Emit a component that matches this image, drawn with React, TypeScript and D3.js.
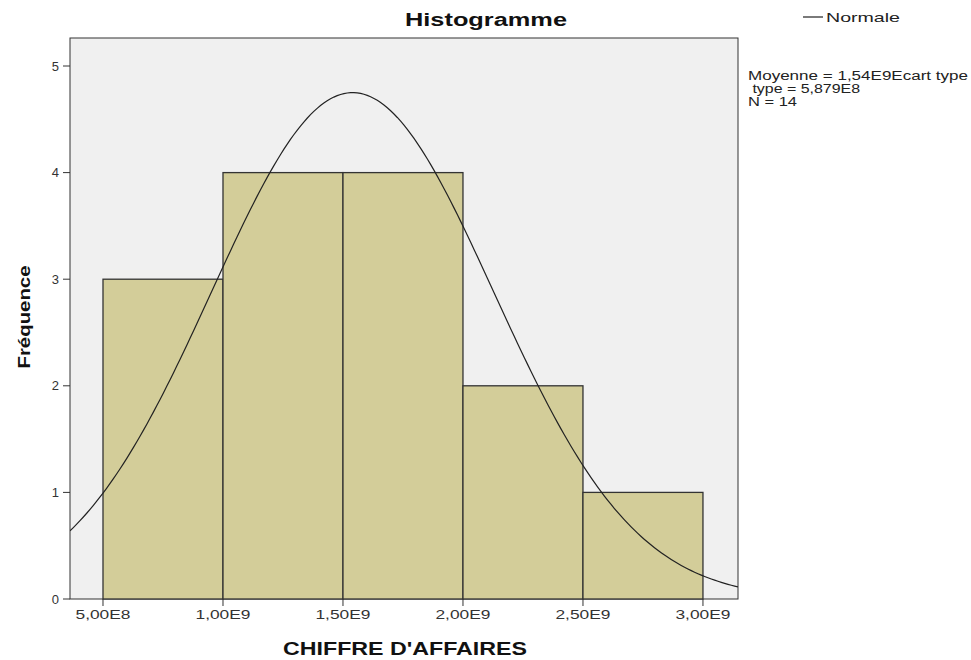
import React from "react";
import * as d3 from "d3";

const binStarts = [5e8, 1e9, 1.5e9, 2e9, 2.5e9];
const binWidth = 5e8;
const binCounts = [3, 4, 4, 2, 1];
const xTicks = [5e8, 1e9, 1.5e9, 2e9, 2.5e9, 3e9];
const xTickLabels = ["5,00E8", "1,00E9", "1,50E9", "2,00E9", "2,50E9", "3,00E9"];
const yTicks = [0, 1, 2, 3, 4, 5];
const mean = 1.54e9;
const sd = 5.879e8;
const n = 14;

export default function App() {
  const W = 971, H = 660;
  const left = 70, right = 738, top = 38, bottom = 599;
  const x = d3.scaleLinear().domain([3.625e8, 3.146e9]).range([left, right]);
  const y = d3.scaleLinear().domain([0, 5]).range([bottom, bottom - 5 * 106.6]);
  const font = "'Liberation Sans', Arial, sans-serif";
  const pts: [number, number][] = d3.range(0, 201).map((i) => {
    const v = 3.625e8 + (i / 200) * (3.146e9 - 3.625e8);
    const d = (n * binWidth) / (sd * Math.sqrt(2 * Math.PI)) * Math.exp(-0.5 * ((v - mean) / sd) ** 2);
    return [x(v), y(d)];
  });
  const line = d3.line();
  return (
    <svg width={W} height={H} style={{ position: "absolute", left: 0, top: 0, background: "#fff" }} fontFamily={font}>
      <rect x={left} y={top} width={right - left} height={bottom - top} fill="#f0f0f0" stroke="#333" strokeWidth={1} />
      {binStarts.map((s, i) => (
        <rect key={i} x={x(s)} y={y(binCounts[i])} width={x(s + binWidth) - x(s)} height={y(0) - y(binCounts[i])}
          fill="#d3cd99" stroke="#333" strokeWidth={1.3} />
      ))}
      <clipPath id="clip"><rect x={left} y={top} width={right - left} height={bottom - top} /></clipPath>
      <path d={line(pts) || ""} fill="none" stroke="#222" strokeWidth={1.2} clipPath="url(#clip)" />
      {yTicks.map((t) => (
        <g key={t}>
          <line x1={left - 7} x2={left} y1={y(t)} y2={y(t)} stroke="#333" />
          <text x={left - 11} y={y(t)} dy="0.35em" textAnchor="end" fontSize={13} fill="#333">{t}</text>
        </g>
      ))}
      {xTicks.map((t, i) => (
        <g key={t}>
          <line x1={x(t)} x2={x(t)} y1={bottom} y2={bottom + 7} stroke="#333" />
          <text x={x(t)} y={bottom + 20} textAnchor="middle" fontSize={13} fill="#333"
            textLength={55} lengthAdjust="spacingAndGlyphs">{xTickLabels[i]}</text>
        </g>
      ))}
      <text x={486} y={26} textAnchor="middle" fontSize={18} fontWeight="bold" fill="#111"
        textLength={162} lengthAdjust="spacingAndGlyphs">Histogramme</text>
      <text x={405} y={655} textAnchor="middle" fontSize={17.5} fontWeight="bold" fill="#111"
        textLength={244} lengthAdjust="spacingAndGlyphs">CHIFFRE D'AFFAIRES</text>
      <text transform={`translate(30, 317) rotate(-90)`} textAnchor="middle" fontSize={17} fontWeight="bold" fill="#111"
        textLength={103} lengthAdjust="spacingAndGlyphs">Fréquence</text>
      <line x1={803} x2={823} y1={17} y2={17} stroke="#222" strokeWidth={1.2} />
      <text x={826} y={22} fontSize={13} fill="#222" textLength={74} lengthAdjust="spacingAndGlyphs">Normale</text>
      <text fontSize={12} fill="#222">
        <tspan x={748} y={80} textLength={220} lengthAdjust="spacingAndGlyphs">Moyenne = 1,54E9Ecart type</tspan>
        <tspan x={748} y={93} textLength={112} lengthAdjust="spacingAndGlyphs"> type = 5,879E8</tspan>
        <tspan x={748} y={106} textLength={49} lengthAdjust="spacingAndGlyphs">N = 14</tspan>
      </text>
    </svg>
  );
}
